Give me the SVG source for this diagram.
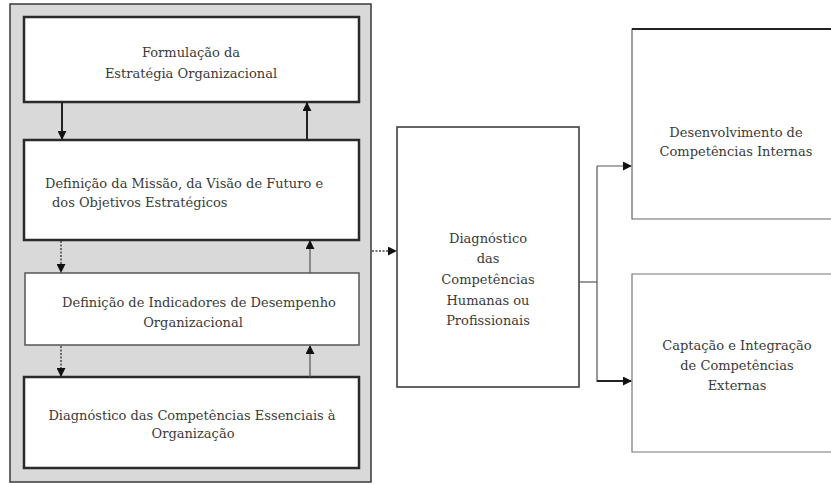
<svg xmlns="http://www.w3.org/2000/svg" width="831" height="484" viewBox="0 0 831 484">
  <defs>
    <style>
      .panel { fill: #d9d9d9; stroke: #3a3a3a; stroke-width: 1.5; }
      .box { fill: #ffffff; stroke: #2a2a2a; stroke-width: 2.5; }
      .box-thin { fill: #ffffff; stroke: #555555; stroke-width: 1.5; }
      text { font-family: 'DejaVu Serif', 'Liberation Serif', serif; font-size: 13px; fill: #3a3a3a; }
      .mid { text-anchor: middle; }
      .wire { fill: none; stroke: #222222; stroke-width: 2; }
      .wire-thin { fill: none; stroke: #555555; stroke-width: 1.2; }
      .wire-dot { fill: none; stroke: #444444; stroke-width: 1.5; stroke-dasharray: 2 1.5; }
    </style>
    <marker id="head-lg" viewBox="0 0 10 10" refX="9" refY="5" markerWidth="9" markerHeight="9" markerUnits="userSpaceOnUse" orient="auto">
      <path d="M0,0 L10,5 L0,10 z" fill="#111111"/>
    </marker>
  </defs>

  <!-- grey backdrop holding the strategy chain -->
  <rect class="panel" x="10" y="4" width="361" height="478"/>

  <g id="formulacao">
    <rect class="box" x="24" y="17" width="335" height="85"/>
    <text class="mid" x="191" y="57">Formulação da</text>
    <text class="mid" x="191" y="78">Estratégia Organizacional</text>
  </g>

  <g id="missao">
    <rect class="box" x="24" y="140" width="335" height="100"/>
    <text x="45" y="188">Definição da Missão, da Visão de Futuro e</text>
    <text x="52" y="207">dos Objetivos Estratégicos</text>
  </g>

  <g id="indicadores">
    <rect class="box-thin" x="25" y="273" width="334" height="72"/>
    <text class="mid" x="199" y="307">Definição de Indicadores  de Desempenho</text>
    <text class="mid" x="193" y="327">Organizacional</text>
  </g>

  <g id="essenciais">
    <rect class="box" x="24" y="377" width="335" height="91"/>
    <text class="mid" x="192" y="420">Diagnóstico das Competências Essenciais à</text>
    <text class="mid" x="193" y="438">Organização</text>
  </g>

  <g id="diagnostico">
    <rect class="box-thin" x="397" y="127" width="182" height="260" style="stroke:#333333"/>
    <text class="mid" x="488" y="243">Diagnóstico</text>
    <text class="mid" x="488" y="263">das</text>
    <text class="mid" x="488" y="284">Competências</text>
    <text class="mid" x="488" y="305">Humanas ou</text>
    <text class="mid" x="488" y="325">Profissionais</text>
  </g>

  <g id="desenvolvimento">
    <path d="M833,29 H632 V219 H833" fill="#ffffff" stroke="#666666" stroke-width="1.2"/>
    <line x1="632" y1="29" x2="833" y2="29" stroke="#222222" stroke-width="2"/>
    <text class="mid" x="736" y="137">Desenvolvimento de</text>
    <text class="mid" x="736" y="156">Competências Internas</text>
  </g>

  <g id="captacao">
    <path d="M833,274 H632 V452 H833" fill="#ffffff" stroke="#777777" stroke-width="1.2"/>
    <text class="mid" x="737" y="350">Captação e Integração</text>
    <text class="mid" x="737" y="370">de Competências</text>
    <text class="mid" x="737" y="390">Externas</text>
  </g>

  <g id="connectors">
    <!-- strategy chain, downward and feedback arrows -->
    <line class="wire" x1="62" y1="102" x2="62" y2="139" marker-end="url(#head-lg)"/>
    <line class="wire" x1="307" y1="140" x2="307" y2="103" marker-end="url(#head-lg)"/>
    <line class="wire-dot" x1="61" y1="241" x2="61" y2="272" marker-end="url(#head-lg)"/>
    <line class="wire-thin" x1="310" y1="273" x2="310" y2="241" marker-end="url(#head-lg)"/>
    <line class="wire-dot" x1="61" y1="346" x2="61" y2="376" marker-end="url(#head-lg)"/>
    <line class="wire-thin" x1="310" y1="377" x2="310" y2="346" marker-end="url(#head-lg)"/>
    <!-- panel to diagnosis -->
    <line class="wire-dot" x1="372" y1="251" x2="396" y2="251" stroke-width="1" marker-end="url(#head-lg)"/>
    <!-- diagnosis fan-out -->
    <path class="wire-thin" d="M579,282 H597"/>
    <path class="wire-thin" d="M597,166 V382"/>
    <line class="wire-thin" x1="597" y1="166" x2="631" y2="166" marker-end="url(#head-lg)"/>
    <line class="wire" x1="597" y1="381" x2="631" y2="381" marker-end="url(#head-lg)"/>
  </g>
</svg>
